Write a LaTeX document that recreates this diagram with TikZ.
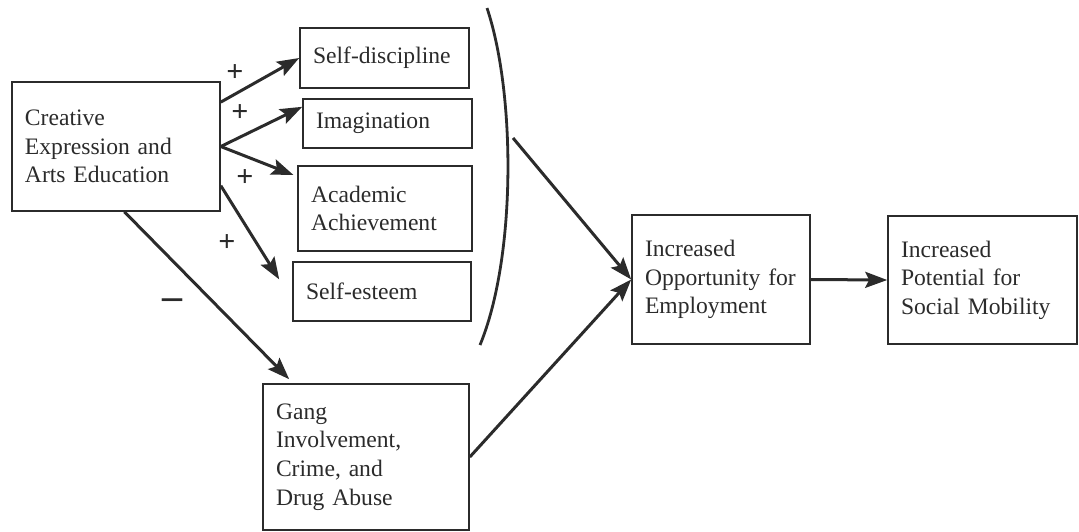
\documentclass[tikz,border=0pt]{standalone}
\usepackage{fontspec}
\setmainfont{Liberation Serif}
\usetikzlibrary{calc}
\usetikzlibrary{arrows.meta}
\definecolor{inkgray}{HTML}{2B2B2B}
\tikzset{
	boxstyle/.style={rectangle,draw=inkgray,line width=0.8pt,text=inkgray,align=left,inner xsep=6.5pt,inner ysep=0pt},
	arrowstyle/.style={draw=inkgray,line width=1.5pt,-{Stealth[length=11pt,width=8pt,inset=2pt]}},
	bracketstyle/.style={draw=inkgray,line width=1.4pt},
	signstyle/.style={text=inkgray,inner sep=0pt,font=\fontsize{15}{15}\selectfont\bfseries}
}

\begin{document}
\begin{tikzpicture}[x=0.5pt,y=-0.5pt]
		\fontsize{11.8}{14.3}\selectfont
		\useasboundingbox (0,0) rectangle (1079,531);
		\node[boxstyle,text width=91pt,minimum height=64.5pt] (creative) at (116,146.5) {Creative\\Expression and\\Arts Education\\[4pt]};
		\node[boxstyle,text width=71.5pt,minimum height=30pt] (selfdisc) at (384.5,58) {Self-discipline};
		\node[boxstyle,text width=71.5pt,minimum height=24.5pt] (imag) at (387.5,123.5) {Imagination};
		\node[boxstyle,text width=74pt,minimum height=42.5pt] (acad) at (385,208.5) {Academic\\Achievement};
		\node[boxstyle,text width=76pt,minimum height=29.5pt] (selfest) at (382,291.5) {Self-esteem};
		\node[boxstyle,text width=90pt,minimum height=73pt] (gang) at (366,457) {Gang\\Involvement,\\Crime, and\\Drug Abuse};
		\node[boxstyle,text width=76pt,minimum height=64.5pt] (opp) at (721,279.5) {Increased\\Opportunity for\\Employment};
		\node[boxstyle,text width=81.5pt,minimum height=64pt] (social) at (982.5,280) {Increased\\Potential for\\Social Mobility};
		\node[signstyle] (plusa) at (235,73) {+};
		\node[signstyle] (plusb) at (240,113) {+};
		\node[signstyle] (plusc) at (245,178) {+};
		\node[signstyle] (plusd) at (227,243) {+};
		\node[signstyle,font=\fontsize{20}{20}\selectfont\bfseries] (minus) at (172,304) {–};
		\draw[bracketstyle] (487,8) .. controls (516,95) and (516,258) .. (480,345);
		\coordinate (brk) at (513,138);
		\draw[arrowstyle] ($(creative.north east)!0.16!(creative.south east)$)--(selfdisc.west);
		\draw[arrowstyle] (creative.east)--($(imag.north west)!0.17!(imag.south west)$);
		\draw[arrowstyle,shorten >=2pt] (creative.east)--($(acad.north west)!0.13!(acad.south west)$);
		\draw[arrowstyle] ($(creative.north east)!0.8!(creative.south east)$)--($(selfest.north west)!0.3!(selfest.south west)+(-13,0)$);
		\draw[arrowstyle] ($(creative.south west)!0.54!(creative.south east)$)--($(gang.north west)!0.13!(gang.north east)+(0,-4)$);
		\draw[arrowstyle] (brk)--(opp.west);
		\draw[arrowstyle] (gang.east)--(opp.west);
		\draw[arrowstyle] (opp.east)--(social.west);
\end{tikzpicture}
\end{document}
